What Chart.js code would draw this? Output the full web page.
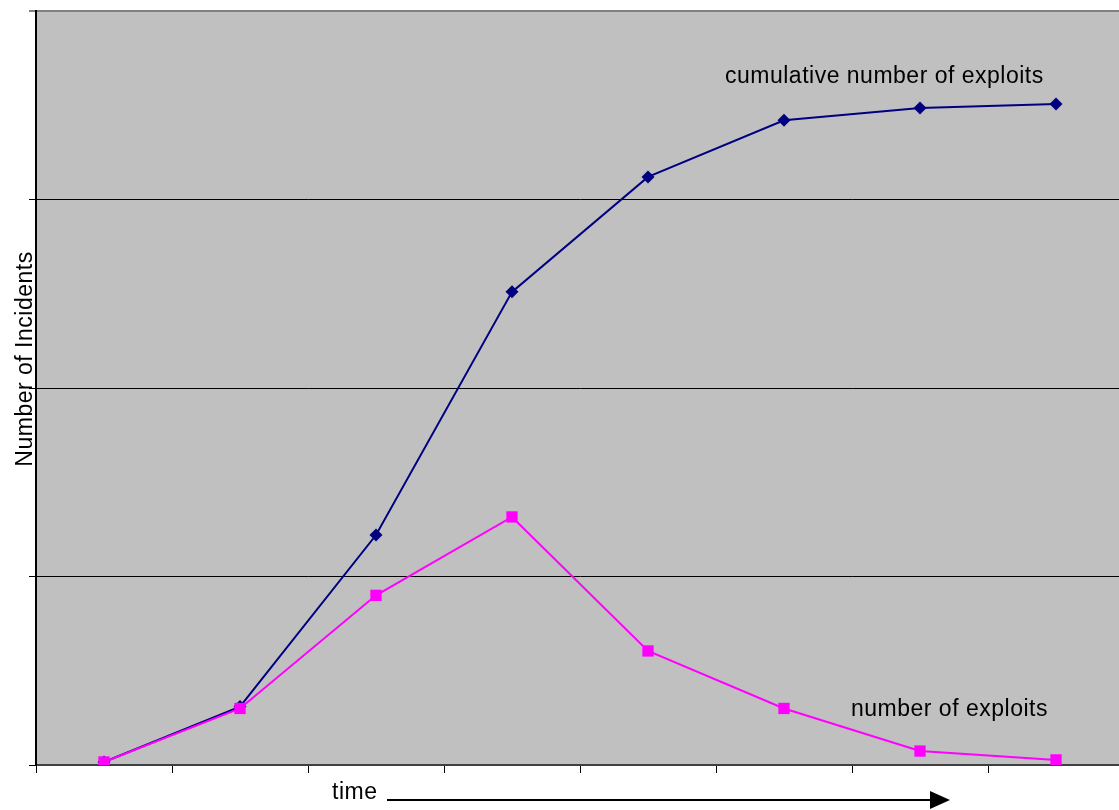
<!DOCTYPE html>
<html>
<head>
<meta charset="utf-8">
<title>Exploits over time</title>
<script src="https://cdn.jsdelivr.net/npm/chart.js@4"></script>
<style>
  html, body { margin: 0; padding: 0; background: #fff; overflow: hidden; }
  #wrap { position: relative; width: 1119px; height: 810px; overflow: hidden; }
</style>
</head>
<body>
<div id="wrap"><canvas id="chart" width="1132" height="810"></canvas></div>
<script>
// time steps (no labels shown on the axis)
const periods = ["t1", "t2", "t3", "t4", "t5", "t6", "t7", "t8"]
const cumulativeExploits = [1.6, 31, 122, 251, 312, 342, 348.5, 350.7]
const exploits = [1.6, 30, 90, 131.6, 60.5, 30, 7.4, 2.7]
const yTicks = [0, 100, 200, 300, 400]

const FONT = "'Liberation Sans', Arial, sans-serif"

// grey plot area + the text / arrow that Excel drew around it
const decorations = {
  id: "decorations",
  beforeDraw(chart) {
    const { ctx, chartArea: a } = chart
    ctx.save()
    ctx.fillStyle = "#c0c0c0"
    ctx.fillRect(a.left, a.top, a.right - a.left, a.bottom - a.top)
    ctx.restore()
  },
  afterDraw(chart) {
    const { ctx } = chart
    ctx.save()
    ctx.fillStyle = "#000"
    ctx.font = "23px " + FONT
    ctx.letterSpacing = "0.5px"
    ctx.textBaseline = "alphabetic"
    ctx.textAlign = "left"
    ctx.fillText("cumulative number of exploits", 725, 83)
    ctx.fillText("number of exploits", 851, 716)
    ctx.fillText("time", 332, 799)

    // y axis title
    ctx.save()
    ctx.translate(32, 359)
    ctx.rotate(-Math.PI / 2)
    ctx.textAlign = "center"
    ctx.fillText("Number of Incidents", 0, 0)
    ctx.restore()

    // arrow after "time"
    ctx.strokeStyle = "#000"
    ctx.lineWidth = 2
    ctx.beginPath()
    ctx.moveTo(387, 800)
    ctx.lineTo(931, 800)
    ctx.stroke()
    ctx.beginPath()
    ctx.moveTo(930, 791)
    ctx.lineTo(950, 800)
    ctx.lineTo(930, 809)
    ctx.closePath()
    ctx.fill()
    ctx.restore()
  }
}

new Chart(document.getElementById("chart"), {
  type: "line",
  data: {
    labels: periods,
    datasets: [
      {
        label: "cumulative number of exploits",
        data: cumulativeExploits,
        borderColor: "#000080",
        backgroundColor: "#000080",
        borderWidth: 2,
        pointStyle: "rectRot",
        pointRadius: 6.5,
        pointBorderWidth: 0,
        tension: 0,
        order: 1
      },
      {
        label: "number of exploits",
        data: exploits,
        borderColor: "#ff00ff",
        backgroundColor: "#ff00ff",
        borderWidth: 2,
        pointStyle: "rect",
        pointRadius: 8,
        pointBorderWidth: 0,
        tension: 0,
        order: 0
      }
    ]
  },
  options: {
    responsive: false,
    animation: false,
    layout: { padding: { top: 11, right: 0, bottom: 0, left: 0 } },
    plugins: {
      legend: { display: false },
      tooltip: { enabled: false }
    },
    scales: {
      x: {
        offset: true,
        grid: {
          offset: true,
          drawOnChartArea: false,
          drawTicks: true,
          tickLength: 8,
          color: "#000",
          lineWidth: 1
        },
        border: { display: true, color: "#404040", width: 2 },
        ticks: { display: false },
        afterFit(scale) { scale.height = 45 }
      },
      y: {
        min: yTicks[0],
        max: yTicks[yTicks.length - 1],
        afterBuildTicks(scale) { scale.ticks = yTicks.map((v) => ({ value: v })) },
        grid: {
          color: (c) => (c.tick && c.tick.value === 400 ? "#808080" : "#000"),
          lineWidth: (c) => (c.tick && c.tick.value === 400 ? 2 : 1),
          tickLength: 7
        },
        border: { display: true, color: "#000", width: 2 },
        ticks: { display: false },
        afterFit(scale) { scale.width = 36 }
      }
    }
  },
  plugins: [decorations]
})
</script>
</body>
</html>
